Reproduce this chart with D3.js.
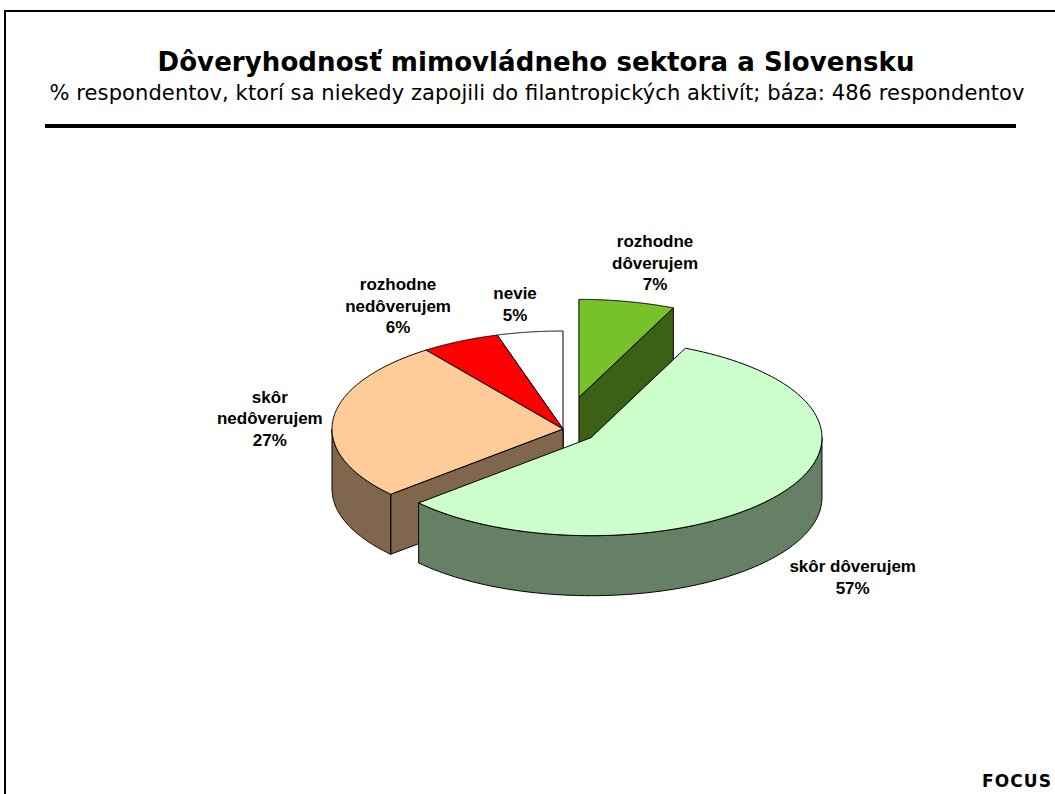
<!DOCTYPE html>
<html>
<head>
<meta charset="utf-8">
<script src="https://cdn.jsdelivr.net/npm/d3@7.9.0/dist/d3.min.js"></script>
<style>
  body { margin: 0; background: #fff; }
  svg { display: block; }
  .lbl { font-family: "Liberation Sans", Arial, sans-serif; font-weight: bold; font-size: 17px; fill: #000; }
</style>
</head>
<body>
<svg id="chart" width="1055" height="794"></svg>
<script>
// data
const categories = ["rozhodne\ndôverujem", "skôr dôverujem", "skôr\nnedôverujem", "rozhodne\nnedôverujem", "nevie"];
const shares = [6.7, 56.7, 26.5, 5.5, 4.6];

// styling
const topColors = ["#77c22a", "#ccffcc", "#ffcc99", "#ff0000", "#ffffff"];
const sideColors = ["#3c6115", "#668066", "#80664d", "#800000", "#808080"];
const explode = [0.33, 0.15, 0, 0, 0];
const labelNudge = [[11, -5], [10, 61], [17, 3], [-26, -5], [-3, 6]];

const svg = d3.select('#chart');

// frame
svg.append('path')
    .attr('d', 'M5,800V11H1060')
    .attr('fill', 'none')
    .attr('stroke', '#000')
    .attr('stroke-width', 2);

svg.append('text')
    .attr('x', 536).attr('y', 71)
    .attr('text-anchor', 'middle')
    .attr('textLength', 757)
    .attr('lengthAdjust', 'spacing')
    .style('font-family', '"DejaVu Sans", Verdana, sans-serif')
    .style('font-weight', 'bold')
    .style('font-size', '26px')
    .text('Dôveryhodnosť mimovládneho sektora a Slovensku');

svg.append('text')
    .attr('x', 537).attr('y', 100)
    .attr('text-anchor', 'middle')
    .attr('textLength', 975)
    .attr('lengthAdjust', 'spacing')
    .style('font-family', '"DejaVu Sans", Verdana, sans-serif')
    .style('font-size', '21px')
    .text('% respondentov, ktorí sa niekedy zapojili do filantropických aktivít; báza: 486 respondentov');

svg.append('line')
    .attr('x1', 45).attr('x2', 1016)
    .attr('y1', 126).attr('y2', 126)
    .attr('stroke', '#000')
    .attr('stroke-width', 4);

svg.append('text')
    .attr('x', 982).attr('y', 787)
    .attr('textLength', 69)
    .attr('lengthAdjust', 'spacing')
    .style('font-family', '"DejaVu Sans", Verdana, sans-serif')
    .style('font-weight', 'bold')
    .style('font-size', '17px')
    .text('FOCUS');

// 3D pie geometry
const cx = 563, cy = 429, rx = 231, ry = 98, depth = 60;
const x = d3.scaleLinear().domain([-1, 1]).range([cx - rx, cx + rx]);
const y = d3.scaleLinear().domain([-1, 1]).range([cy + ry, cy - ry]);

const arcs = d3.pie().sort(null).value(d => d)(shares);
arcs.forEach((a, i) => {
    a.mid = (a.startAngle + a.endAngle) / 2;
    a.ex = explode[i] * Math.sin(a.mid);
    a.ey = explode[i] * Math.cos(a.mid);
    a.i = i;
});

function pt(a, t, k, z) {
    return [x(k * Math.sin(t) + a.ex), y(k * Math.cos(t) + a.ey) + z];
}

function arcPts(a, t0, t1, z, n) {
    return d3.range(n + 1).map(j => pt(a, t0 + (t1 - t0) * j / n, 1, z));
}

const line = d3.line();
const pie = svg.append('g');

// back slices first
const order = arcs.slice().sort((p, q) => Math.cos(q.mid) - Math.cos(p.mid));

order.forEach(a => {
    const g = pie.append('g');
    const side = sideColors[a.i];
    const face = (t) => line([pt(a, 0, 0, 0), pt(a, t, 1, 0), pt(a, t, 1, depth), pt(a, 0, 0, depth)]) + 'Z';

    if (Math.sin(a.startAngle) < -1e-9) {
        g.append('path').attr('d', face(a.startAngle))
            .attr('fill', side).attr('stroke', '#000').attr('stroke-width', 1);
    }
    if (Math.sin(a.endAngle) > 1e-9) {
        g.append('path').attr('d', face(a.endAngle))
            .attr('fill', side).attr('stroke', '#000').attr('stroke-width', 1);
    }
    const w0 = Math.max(a.startAngle, Math.PI / 2);
    const w1 = Math.min(a.endAngle, Math.PI * 1.5);
    if (w1 > w0) {
        const pts = arcPts(a, w0, w1, 0, 80).concat(arcPts(a, w1, w0, depth, 80));
        g.append('path').attr('d', line(pts) + 'Z')
            .attr('fill', side).attr('stroke', '#000').attr('stroke-width', 1);
    }
    const topPts = [pt(a, 0, 0, 0)].concat(arcPts(a, a.startAngle, a.endAngle, 0, 120));
    g.append('path').attr('d', line(topPts) + 'Z')
        .attr('fill', topColors[a.i]).attr('stroke', '#000').attr('stroke-width', 1);
});

// labels
const lh = 21.5;
arcs.forEach(a => {
    const lines = categories[a.i].split('\n').concat([Math.round(shares[a.i]) + '%']);
    const p = [x(1.35 * Math.sin(a.mid) + a.ex) + labelNudge[a.i][0],
               y(1.35 * Math.cos(a.mid) + a.ey) + labelNudge[a.i][1]];
    const t = svg.append('text')
        .attr('class', 'lbl')
        .attr('text-anchor', 'middle');
    lines.forEach((s, j) => {
        t.append('tspan')
            .attr('x', p[0])
            .attr('y', p[1] + (j - (lines.length - 1) / 2) * lh + 6)
            .text(s);
    });
});
</script>
</body>
</html>
